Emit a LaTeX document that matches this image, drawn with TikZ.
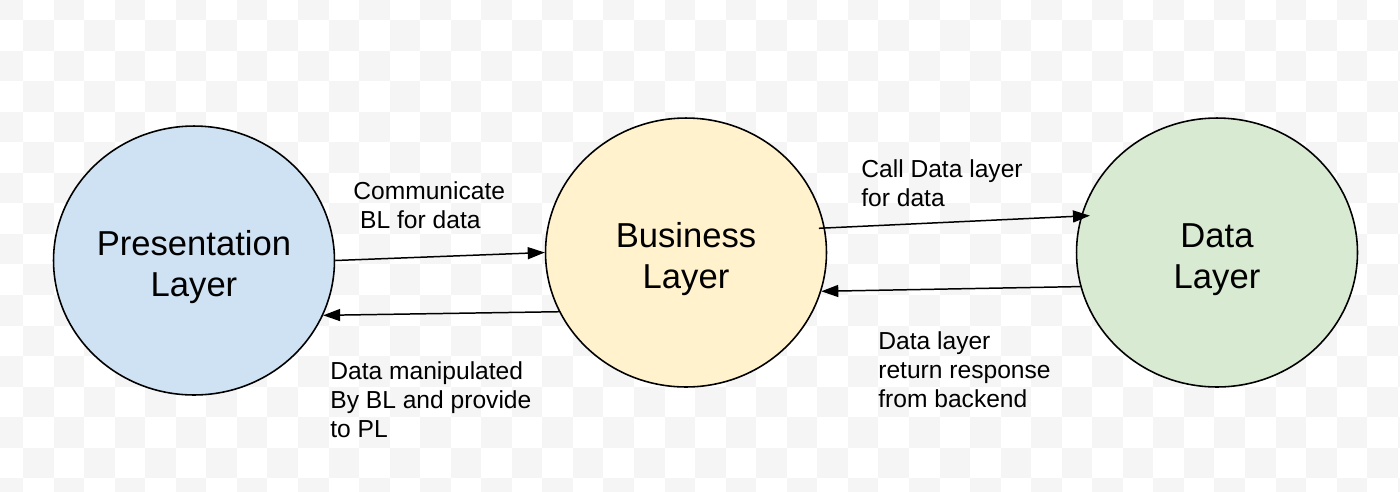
\documentclass[tikz,border=0pt]{standalone}
\usepackage{fontspec}
\setmainfont{Liberation Sans}
\usetikzlibrary{shapes.geometric,arrows.meta}

\definecolor{presblue}{HTML}{CFE2F3}
\definecolor{bizyellow}{HTML}{FFF2CC}
\definecolor{datagreen}{HTML}{D9EAD3}
\definecolor{checkgray}{HTML}{F5F5F5}

\newcommand{\lift}{\rule{0pt}{0.76cm}}

\tikzset{
  layer/.style={ellipse, draw=black, line width=0.9pt, inner sep=0pt,
    minimum width=5.62cm, minimum height=5.38cm, align=center,
    font=\fontsize{19.7}{23.3}\selectfont},
  flow/.style={line width=0.85pt, -{Triangle[length=0.34cm,width=0.24cm]}},
  note/.style={anchor=north west, inner sep=0pt, align=left,
    font=\fontsize{14}{16.6}\selectfont}
}

\begin{document}
\begin{tikzpicture}[x=0.02cm, y=-0.02cm]
\useasboundingbox (0,0) rectangle (1400,491);
\fill[white] (0,0) rectangle (1400,491);
\begin{scope}
\clip (0,0) rectangle (1400,491);
\foreach \i in {0,...,46}
  \foreach \j in {0,...,16}{
    \pgfmathtruncatemacro{\odd}{mod(\i+\j,2)}
    \ifnum\odd=0
      \fill[checkgray] (-7.55+30.55*\i,-10.55+30.55*\j) rectangle ++(30.55,30.55);
    \fi}
\end{scope}

\node[layer, fill=presblue] (pres) at (194,260.5) {\lift Presentation\\Layer};
\node[layer, fill=bizyellow] (biz) at (686,252.5) {\lift Business\\Layer};
\node[layer, fill=datagreen] (data) at (1217,252.5) {\lift Data\\Layer};

\draw[flow] (pres.0) -- (biz.180);
\draw[flow] (biz.205) -- (pres.337);
\draw[flow, shorten <=-0.12cm, shorten >=-0.18cm] (biz.10) -- (data.165);
\draw[flow] (data.194) -- (biz.344);

\node[note] (commbl) at (353,181) {Communicate\\\hspace*{0.28em}BL for data};
\node[note] (manip) at (330,361) {Data manipulated\\By BL and provide\\to PL};
\node[note] (calldl) at (861,159) {Call Data layer\\for data};
\node[note] (dlret) at (878,331) {Data layer\\return response\\from backend};
\end{tikzpicture}
\end{document}
